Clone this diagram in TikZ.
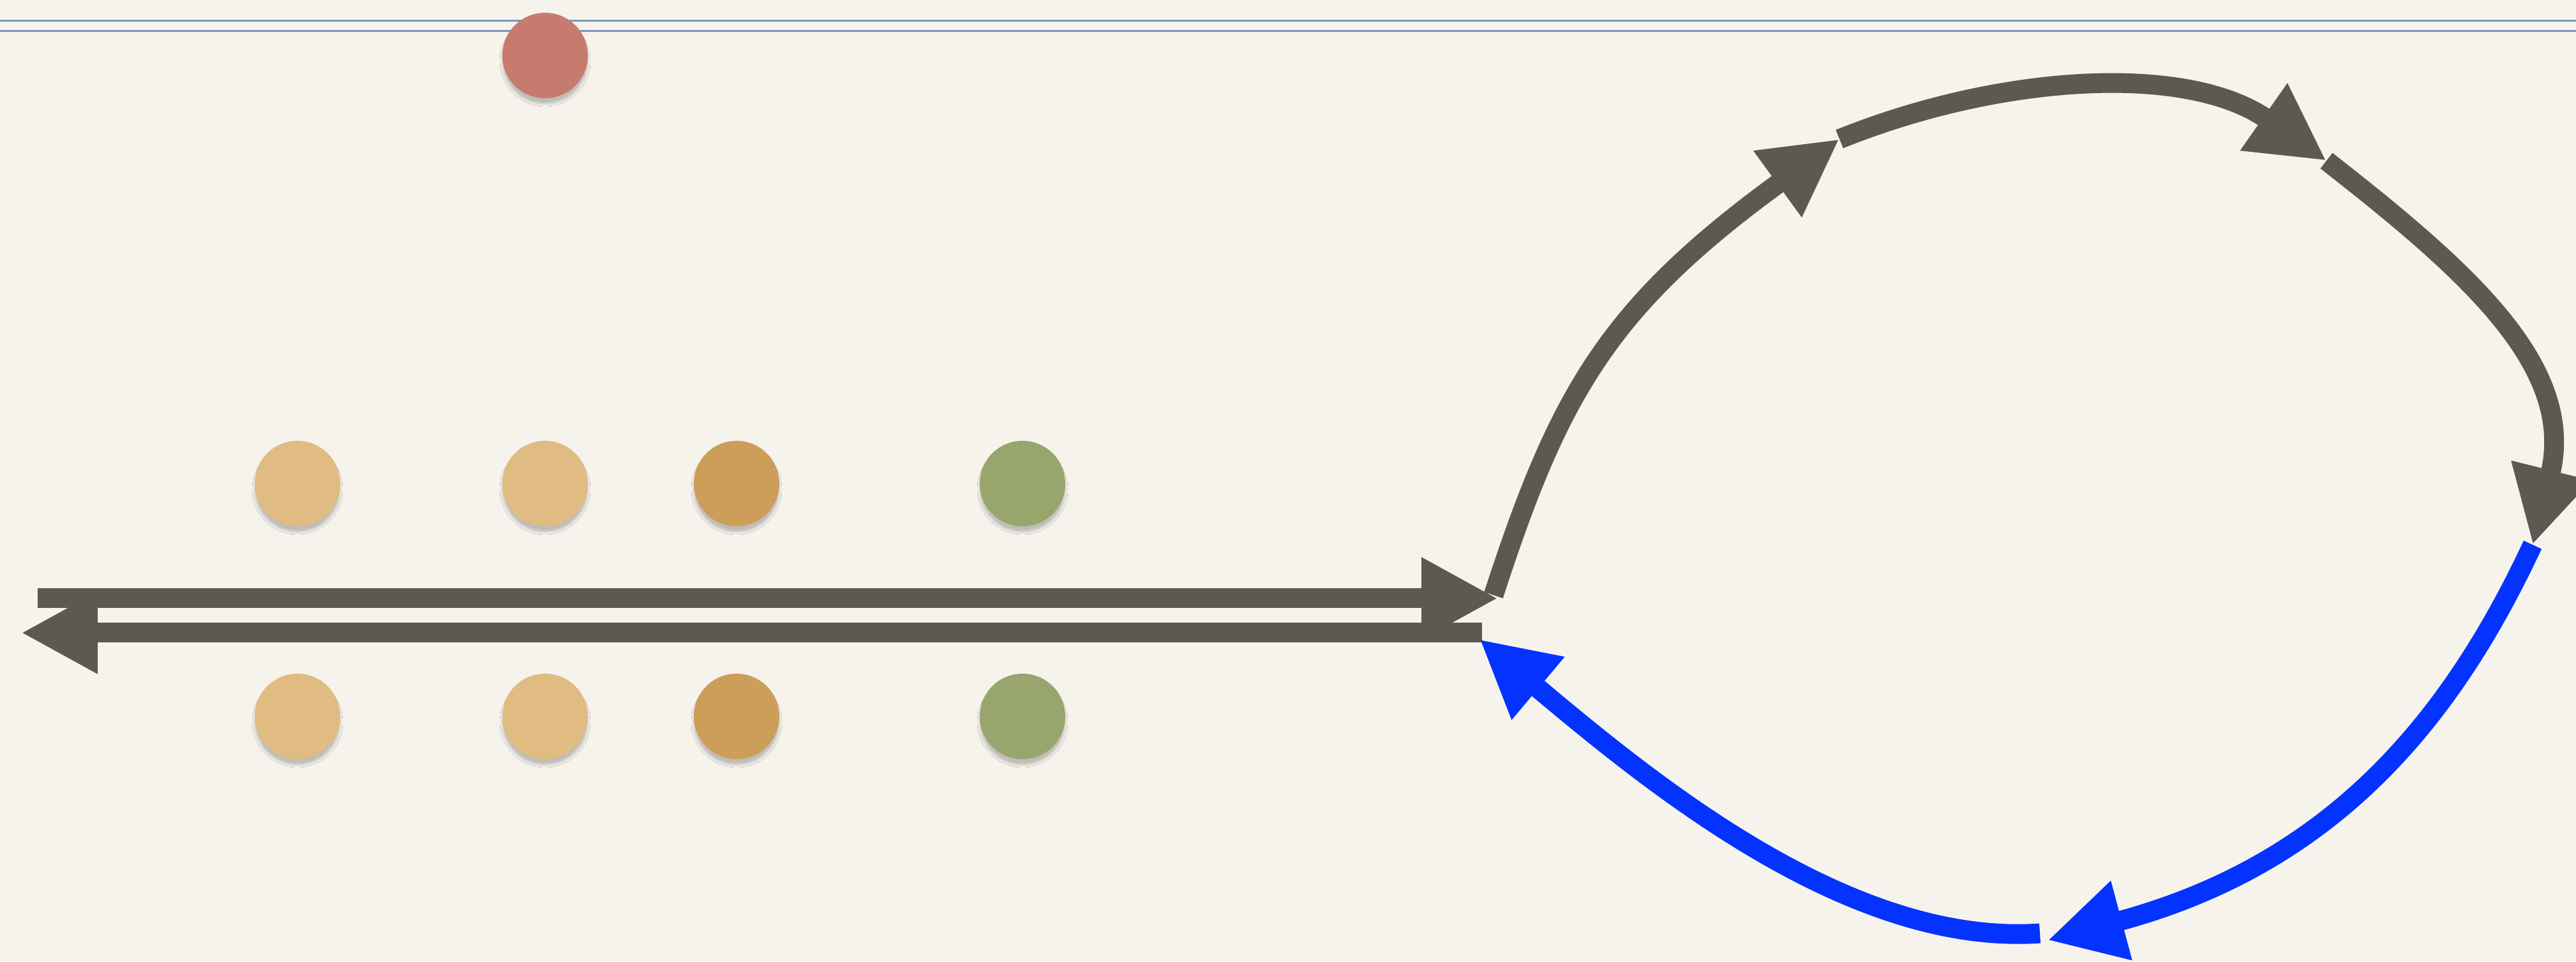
\documentclass[tikz,border=0pt]{standalone}
\usepackage{xcolor}
\usepackage{tikz}
\usetikzlibrary{arrows.meta, shadows.blur}

\definecolor{paper}{RGB}{246,243,237}
\definecolor{rulecol}{RGB}{122,148,184}
\definecolor{ink}{RGB}{92,89,83}
\definecolor{loopblue}{RGB}{4,51,255}
\definecolor{berry}{RGB}{199,123,110}
\definecolor{sand}{RGB}{224,188,130}
\definecolor{amber}{RGB}{205,157,90}
\definecolor{sage}{RGB}{152,165,108}

\begin{document}
\begin{tikzpicture}[
        dot/.style={circle, minimum size=1.34cm, inner sep=0pt,
            blur shadow={shadow xshift=0pt, shadow yshift=-0.09cm, shadow blur radius=0.04cm, shadow opacity=22}},
        rail/.style={draw=rulecol, line width=0.03cm},
        arr/.style={-{Triangle[length=1.2cm, width=1.2cm]}, line width=0.31cm, ink},
        barr/.style={arr, loopblue},
    ]
        \fill[paper] (0,0) rectangle (40.36,15.07);
        \useasboundingbox (0,0) rectangle (40.36,15.07);

        % Top rules
        \draw[rail] (0,14.74) -- (40.36,14.74);
        \draw[rail] (0,14.58) -- (40.36,14.58);

        % Dots
        \node[dot, fill=berry] (top) at (8.54,14.20) {};
        \node[dot, fill=sand] (upa) at (4.66,7.49) {};
        \node[dot, fill=sand] (upb) at (8.54,7.49) {};
        \node[dot, fill=amber] (upc) at (11.54,7.49) {};
        \node[dot, fill=sage] (upd) at (16.02,7.49) {};
        \node[dot, fill=sand] (loa) at (4.66,3.84) {};
        \node[dot, fill=sand] (lob) at (8.54,3.84) {};
        \node[dot, fill=amber] (loc) at (11.54,3.84) {};
        \node[dot, fill=sage] (lod) at (16.02,3.84) {};

        % Track ends and loop points
        \coordinate (inL) at (0.59,5.69);
        \coordinate (inR) at (23.47,5.69);
        \coordinate (outR) at (23.22,5.15);
        \coordinate (outL) at (0.33,5.15);
        \coordinate (k0) at (23.40,5.74);
        \coordinate (k1) at (28.82,12.89);
        \coordinate (k2) at (36.45,12.55);
        \coordinate (k3) at (39.68,6.53);
        \coordinate (k4) at (32.08,0.33);
        \coordinate (k5) at (31.96,0.44);
        \coordinate (k6) at (23.18,5.05);

        % Arrows
        \draw[arr] (inL) -- (inR);
        \draw[arr] (outR) -- (outL);
        \draw[arr] (k0) to[out=72, in=216, out distance=3.3cm, in distance=4.5cm] (k1);
        \draw[arr] (k1) to[out=22, in=145, looseness=0.9] (k2);
        \draw[arr] (k2) to[out=-38, in=76, looseness=1.07] (k3);
        \draw[barr] (k3) to[out=245, in=15, out distance=3.2cm, in distance=4.5cm] (k4);
        \draw[barr] (k5) to[out=184, in=320, out distance=3cm, in distance=3.5cm] (k6);
    \end{tikzpicture}
\end{document}
